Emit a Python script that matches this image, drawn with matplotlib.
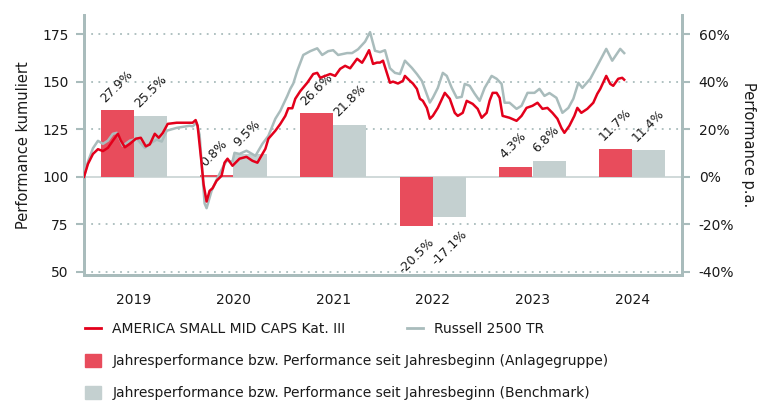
import matplotlib
matplotlib.use("Agg")
import matplotlib.pyplot as plt
import numpy as np
from matplotlib.lines import Line2D
from matplotlib.patches import Patch

# years since 1 Jan 2019 and cumulative performance (start = 100)
fund_t = [0.00, 0.04, 0.09, 0.14, 0.19, 0.24, 0.29, 0.34, 0.37, 0.41, 0.46, 0.52, 0.57, 0.62, 0.66,
          0.71, 0.75, 0.79, 0.84, 0.93, 1.02, 1.09, 1.12, 1.14, 1.18, 1.20, 1.23, 1.26, 1.29, 1.33,
          1.38, 1.41, 1.44, 1.49, 1.56, 1.63, 1.69, 1.74, 1.79, 1.82, 1.85, 1.92, 1.97, 2.02, 2.05,
          2.09, 2.12, 2.17, 2.24, 2.30, 2.34, 2.37, 2.42, 2.47, 2.52, 2.57, 2.62, 2.67, 2.74, 2.79,
          2.82, 2.86, 2.90, 2.94, 2.97, 3.00, 3.07, 3.10, 3.15, 3.20, 3.22, 3.27, 3.30, 3.34, 3.37,
          3.40, 3.44, 3.47, 3.50, 3.55, 3.62, 3.67, 3.72, 3.75, 3.80, 3.84, 3.90, 3.95, 3.99, 4.04,
          4.07, 4.10, 4.14, 4.17, 4.20, 4.27, 4.34, 4.39, 4.44, 4.50, 4.55, 4.60, 4.65, 4.70, 4.75,
          4.79, 4.82, 4.87, 4.92, 4.95, 4.99, 5.05, 5.11, 5.15, 5.18, 5.24, 5.28, 5.31, 5.36, 5.40, 5.42]
fund_v = [100.0, 106.8, 112.0, 114.5, 113.5, 115.2, 119.0, 122.6, 119.0, 115.5, 117.3, 120.0, 120.5, 116.0, 117.0,
          122.6, 120.5, 123.0, 127.8, 128.4, 128.4, 128.4, 129.8, 126.8, 106.8, 96.0, 87.0, 92.6, 94.0, 97.9,
          100.5, 107.4, 109.5, 105.8, 109.5, 110.5, 108.4, 107.4, 112.0, 114.7, 120.0, 124.2, 127.8, 132.0, 136.0,
          136.0, 141.0, 145.0, 149.4, 154.0, 154.6, 152.0, 153.0, 154.0, 153.0, 156.7, 158.3, 157.0, 162.0, 159.9,
          162.5, 166.5, 159.3, 160.0, 160.0, 161.0, 149.4, 150.0, 149.0, 150.4, 153.0, 150.4, 149.0, 146.2, 141.0,
          139.9, 136.2, 130.5, 132.0, 136.2, 144.1, 141.0, 133.6, 132.0, 133.6, 139.9, 138.3, 135.7, 131.0, 133.6,
          140.0, 144.1, 144.1, 141.5, 132.0, 131.0, 129.4, 132.0, 136.2, 137.3, 138.9, 135.7, 136.2, 133.6, 130.5,
          125.7, 123.1, 126.8, 132.0, 136.2, 133.6, 135.7, 138.9, 143.6, 146.2, 153.0, 148.8, 147.8, 151.5, 152.0, 151.0]

bench_t = [0.00, 0.04, 0.09, 0.14, 0.19, 0.24, 0.29, 0.33, 0.39, 0.46, 0.53, 0.61, 0.66, 0.73, 0.78,
           0.83, 0.93, 1.06, 1.09, 1.13, 1.16, 1.19, 1.21, 1.23, 1.28, 1.34, 1.39, 1.43, 1.49, 1.51,
           1.56, 1.63, 1.72, 1.79, 1.85, 1.92, 1.97, 2.04, 2.07, 2.10, 2.14, 2.20, 2.27, 2.34, 2.39,
           2.45, 2.50, 2.55, 2.64, 2.69, 2.75, 2.82, 2.87, 2.92, 2.97, 3.02, 3.07, 3.12, 3.17, 3.22,
           3.29, 3.34, 3.39, 3.47, 3.50, 3.55, 3.60, 3.64, 3.69, 3.74, 3.79, 3.82, 3.87, 3.92, 3.97,
           4.02, 4.09, 4.14, 4.19, 4.22, 4.27, 4.34, 4.39, 4.45, 4.52, 4.57, 4.62, 4.67, 4.74, 4.80,
           4.86, 4.91, 4.96, 5.00, 5.08, 5.16, 5.24, 5.30, 5.38, 5.42]
bench_v = [100.0, 108.0, 115.0, 118.9, 117.3, 119.0, 122.6, 123.1, 116.3, 119.0, 120.0, 115.2, 117.5, 119.5, 118.5,
           124.2, 125.7, 126.8, 126.5, 128.4, 122.0, 100.0, 86.0, 83.5, 92.6, 99.5, 104.7, 108.4, 108.0, 112.6,
           112.0, 113.7, 111.0, 117.3, 121.5, 130.5, 134.7, 142.5, 146.2, 149.0, 155.7, 164.0, 166.0, 167.5, 164.0,
           166.0, 166.5, 164.0, 165.0, 165.0, 167.0, 171.0, 176.0, 166.2, 165.5, 166.5, 157.0, 154.6, 154.0, 161.0,
           157.2, 154.0, 150.4, 139.0, 141.5, 146.7, 154.6, 153.0, 146.7, 141.5, 142.0, 148.8, 147.8, 143.6, 139.9,
           146.7, 153.0, 151.5, 148.8, 138.9, 138.9, 135.7, 137.3, 144.1, 144.1, 146.2, 142.5, 144.0, 141.5, 133.6,
           136.2, 141.0, 149.4, 146.7, 151.5, 159.3, 167.2, 161.0, 167.2, 165.0]

years = ["2019", "2020", "2021", "2022", "2023", "2024"]
fund_pa = [27.9, 0.8, 26.6, -20.5, 4.3, 11.7]
bench_pa = [25.5, 9.5, 21.8, -17.1, 6.8, 11.4]

fund_name = "AMERICA SMALL MID CAPS Kat. III"
bench_name = "Russell 2500 TR"
bar_fund_name = "Jahresperformance bzw. Performance seit Jahresbeginn (Anlagegruppe)"
bar_bench_name = "Jahresperformance bzw. Performance seit Jahresbeginn (Benchmark)"

RED = "#e3001b"
RED_BAR = "#e84c5c"
GREY = "#a9bcbc"
GREY_BAR = "#c4d0d0"
AXC = "#a9bcbc"
TXT = "#1a1a1a"

plt.rcParams["font.family"] = "DejaVu Sans"
plt.rcParams["font.size"] = 10

fig = plt.figure(figsize=(7.65, 4.01), dpi=100)
ax = fig.add_axes([84 / 765, 1 - 275 / 401, (682 - 84) / 765, (275 - 15) / 401])
axb = ax.twinx()
ax.set_zorder(2)
axb.set_zorder(1)
ax.patch.set_visible(False)

ylo, yhi = 48.4, 185.0
ax.set_ylim(ylo, yhi)
axb.set_ylim((ylo - 100) / 1.25, (yhi - 100) / 1.25)
ax.set_xlim(0, 6)

# bars on right axis
xs = np.arange(len(years))
axb.bar(xs + 1 / 3, fund_pa, width=1 / 3, color=RED_BAR, zorder=2)
axb.bar(xs + 2 / 3, bench_pa, width=1 / 3, color=GREY_BAR, zorder=2)
axb.axhline(0, color="#c8d3d3", lw=1.2, zorder=1)
for i in range(len(years)):
    for off, val in ((0, fund_pa[i]), (1 / 3, bench_pa[i])):
        lab = f"{val:.1f}%"
        if val >= 0:
            axb.annotate(lab, (xs[i] + 1 / 6 + off, val), xytext=(5, 4), textcoords="offset points",
                         rotation=45, rotation_mode="anchor", ha="left", va="bottom", color=TXT, fontsize=9)
        else:
            axb.annotate(lab, (xs[i] + 1 / 2 + off, val), xytext=(-4, -7), textcoords="offset points",
                         rotation=45, rotation_mode="anchor", ha="right", va="top", color=TXT, fontsize=9)

# lines on left axis
ax.plot(bench_t, bench_v, color=GREY, lw=1.8, zorder=3)
ax.plot(fund_t, fund_v, color=RED, lw=1.8, zorder=4)

# grid
axb.set_yticks([-40, -20, 0, 20, 40, 60])
axb.set_yticklabels(["-40%", "-20%", "0%", "20%", "40%", "60%"])
for v in [-40, -20, 20, 40, 60]:
    axb.axhline(v, color=AXC, lw=1.3, ls=(0, (1, 3)), zorder=0)
ax.set_yticks([50, 75, 100, 125, 150, 175])

# x axis
ax.set_xticks(np.arange(0, 7))
ax.set_xticklabels([])
ax.set_xticks(xs + 0.5, minor=True)
ax.set_xticklabels(years, minor=True)
ax.tick_params(axis="x", which="major", length=9, width=1.5, color=AXC, direction="out")
ax.tick_params(axis="x", which="minor", length=0, pad=13, labelsize=10, labelcolor=TXT)
ax.tick_params(axis="y", length=6, width=1.5, color=AXC, pad=5, labelsize=10, labelcolor=TXT)
axb.tick_params(axis="y", length=6, width=1.5, color=AXC, pad=6, labelsize=10, labelcolor=TXT)
axb.set_xticks([])

for a in (ax, axb):
    a.spines["top"].set_visible(False)
    for s in ("left", "right", "bottom"):
        a.spines[s].set_color(AXC)
        a.spines[s].set_linewidth(2)

ax.set_ylabel("Performance kumuliert", fontsize=10.5, color=TXT, labelpad=8)
axb.set_ylabel("Performance p.a.", fontsize=10.5, color=TXT, rotation=270, labelpad=16)

# legends, one per row
h1 = [Line2D([], [], color=RED, lw=2), Line2D([], [], color=GREY, lw=2)]
leg_kw = dict(loc="center left", frameon=False, handlelength=1.2, handleheight=1.15,
              handletextpad=0.8, fontsize=10, borderaxespad=0)
leg1 = fig.legend(h1, [fund_name, bench_name], bbox_to_anchor=(79 / 765, 1 - 329 / 401),
                  ncol=2, columnspacing=4.4, **leg_kw)
leg2 = fig.legend([Patch(color=RED_BAR)], [bar_fund_name], bbox_to_anchor=(79 / 765, 1 - 361 / 401), **leg_kw)
leg3 = fig.legend([Patch(color=GREY_BAR)], [bar_bench_name], bbox_to_anchor=(79 / 765, 1 - 393 / 401), **leg_kw)
for lg in (leg1, leg2, leg3):
    for t in lg.get_texts():
        t.set_color(TXT)

fig.savefig("out.png", dpi=100)
